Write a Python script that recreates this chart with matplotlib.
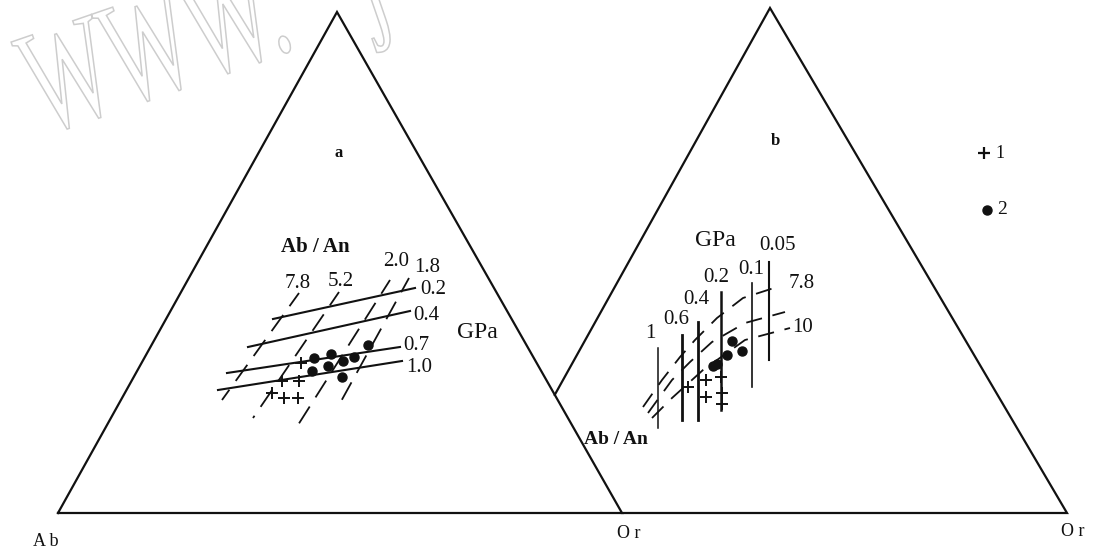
import numpy as np
import matplotlib
matplotlib.use("Agg")
import matplotlib.pyplot as plt
from matplotlib.textpath import TextPath
from matplotlib.patches import PathPatch
from matplotlib.font_manager import FontProperties
from matplotlib.transforms import Affine2D

plt.rcParams["font.family"] = ["Liberation Serif", "DejaVu Serif"]

# diagram units: x to the right, y downwards (0..1094 x 0..550)
tri_a = [(58, 513), (337, 12), (622, 513)]          # Ab, apex, Or
tri_b = [(489, 513), (770, 8), (1067, 513)]         # hidden left corner, apex, Or

# ---- diagram a ----
a_gpa_labels = ["0.2", "0.4", "0.7", "1.0"]
a_gpa_x0 = [273, 248, 227, 218]
a_gpa_y0 = [319, 347, 373, 390]
a_gpa_x1 = [415, 410, 400, 402]
a_gpa_y1 = [288, 311, 347, 361]
a_gpa_lx = [433, 426, 416, 419]
a_gpa_ly = [289, 315, 345, 367]

a_ratio_labels = ["7.8", "5.2", "2.0", "1.8"]
a_ratio_x0 = [299, 339, 390, 409]
a_ratio_y0 = [293, 292, 280, 278]
a_ratio_x1 = [222, 253, 298, 339]
a_ratio_y1 = [400, 418, 425, 405]
a_ratio_lx = [298, 341, 396, 427]
a_ratio_ly = [283, 281, 262, 267]

a_plus_x = [301, 282, 299, 272, 284, 298]
a_plus_y = [363, 381, 381, 393, 398, 398]
a_dot_x = [314, 331, 343, 354, 368, 312, 328, 342]
a_dot_y = [358, 354, 361, 357, 345, 371, 366, 377]

# ---- diagram b ----
b_gpa_labels = ["1", "0.6", "0.4", "0.2", "0.1", "0.05"]
b_gpa_x = [658, 682, 698, 721, 752, 769]
b_gpa_top = [348, 335, 322, 292, 283, 262]
b_gpa_bot = [428, 420, 420, 410, 387, 360]
b_gpa_lw = [1.1, 2.0, 2.0, 1.8, 1.2, 1.5]
b_gpa_lx = [650, 676, 696, 716, 751, 777]
b_gpa_ly = [334, 319, 299, 277, 269, 245]

b_ratio_labels = ["7.8", "", "10"]
b_ratio_x = [[643, 662, 680, 695, 717, 743, 777],
             [648, 672, 690, 712, 745, 785],
             [652, 672, 703, 717, 745, 790]]
b_ratio_y = [[407, 380, 357, 340, 318, 298, 287],
             [413, 380, 362, 342, 323, 312],
             [418, 398, 370, 360, 340, 328]]
b_ratio_lx = [802, None, 803]
b_ratio_ly = [283, None, 328]

b_plus_x = [688, 706, 721, 706, 722, 722]
b_plus_y = [387, 380, 377, 397, 393, 404]
b_dot_x = [732, 742, 727, 717, 713]
b_dot_y = [341, 351, 355, 364, 366]

fig = plt.figure(figsize=(10.94, 5.5), dpi=100)
ax = fig.add_axes([0, 0, 1, 1])
ax.set_xlim(0, 1094)
ax.set_ylim(550, 0)
ax.axis("off")

ink = "#111111"

# watermark (outlined, condensed, tilted)
wm_font = FontProperties(family="Liberation Serif")
for txt, along in [("WWW.", 0), ("j", 345)]:
    path = TextPath((0, 0), txt, size=150, prop=wm_font)
    path = (Affine2D().scale(0.6, -1.0).translate(along, 0)
            .rotate_deg(-19).translate(43, 135).transform_path(path))
    ax.add_patch(PathPatch(path, facecolor="none", edgecolor="#cdcdcd", lw=1.1, zorder=0))

# triangle a
xa = [p[0] for p in tri_a] + [tri_a[0][0]]
ya = [p[1] for p in tri_a] + [tri_a[0][1]]
ax.plot(xa, ya, color=ink, lw=1.6, solid_joinstyle="miter", zorder=2)

# triangle b, left side cut where it meets the right side of a
p, q = np.array(tri_a[1], float), np.array(tri_a[2], float)
r, s = np.array(tri_b[0], float), np.array(tri_b[1], float)
t = np.linalg.solve(np.column_stack([q - p, r - s]), r - p)[0]
cut = p + t * (q - p)
ax.plot([cut[0], tri_b[1][0], tri_b[2][0], tri_a[2][0]],
        [cut[1], tri_b[1][1], tri_b[2][1], tri_b[2][1]],
        color=ink, lw=1.6, solid_joinstyle="miter", zorder=2)

num_fs = 15

# a: pressure lines
for i, lab in enumerate(a_gpa_labels):
    ax.plot([a_gpa_x0[i], a_gpa_x1[i]], [a_gpa_y0[i], a_gpa_y1[i]], color=ink, lw=1.5)
    ax.text(a_gpa_lx[i], a_gpa_ly[i], lab, fontsize=num_fs, ha="center", va="center", color=ink)
# a: Ab/An lines
for i, lab in enumerate(a_ratio_labels):
    ax.plot([a_ratio_x0[i], a_ratio_x1[i]], [a_ratio_y0[i], a_ratio_y1[i]],
            color=ink, lw=1.3, linestyle=(2, (11, 6)))
    ax.text(a_ratio_lx[i], a_ratio_ly[i], lab, fontsize=num_fs, ha="center", va="center", color=ink)
ax.plot(a_plus_x, a_plus_y, "+", color=ink, ms=8, mew=1.4, zorder=3)
ax.plot(a_dot_x, a_dot_y, "o", color=ink, ms=6.5, zorder=3)
ax.text(315, 247, "Ab / An", fontsize=15, fontweight="bold", ha="center", va="center", color=ink)
ax.text(477, 333, "GPa", fontsize=17, ha="center", va="center", color=ink)
ax.text(339, 153, "a", fontsize=12, fontweight="bold", ha="center", va="center", color=ink)

# b: pressure lines
for i, lab in enumerate(b_gpa_labels):
    ax.plot([b_gpa_x[i], b_gpa_x[i]], [b_gpa_top[i], b_gpa_bot[i]], color=ink, lw=b_gpa_lw[i])
    ax.text(b_gpa_lx[i], b_gpa_ly[i], lab, fontsize=num_fs, ha="center", va="center", color=ink)
# b: Ab/An curves
for i, lab in enumerate(b_ratio_labels):
    ax.plot(b_ratio_x[i], b_ratio_y[i], color=ink, lw=1.3, linestyle=(0, (9, 6)))
    if lab:
        ax.text(b_ratio_lx[i], b_ratio_ly[i], lab, fontsize=num_fs, ha="center", va="center", color=ink)
ax.plot(b_plus_x, b_plus_y, "+", color=ink, ms=8, mew=1.4, zorder=3)
ax.plot(b_dot_x, b_dot_y, "o", color=ink, ms=6.5, zorder=3)
ax.text(715, 240, "GPa", fontsize=17, ha="center", va="center", color=ink)
ax.text(616, 440, "Ab / An", fontsize=14, fontweight="bold", ha="center", va="center", color=ink)
ax.text(775, 141, "b", fontsize=12, fontweight="bold", ha="center", va="center", color=ink)

# legend
ax.plot([984], [153], "+", color=ink, ms=8, mew=1.6)
ax.text(1000, 154, "1", fontsize=13, ha="center", va="center", color=ink)
ax.plot([987], [210], "o", color=ink, ms=6.5)
ax.text(1002, 210, "2", fontsize=14, ha="center", va="center", color=ink)

# corner labels
ax.text(46, 541, "A b", fontsize=13, ha="center", va="center", color=ink)
ax.text(629, 534, "O r", fontsize=13, ha="center", va="center", color=ink)
ax.text(1073, 532, "O r", fontsize=13, ha="center", va="center", color=ink)

fig.savefig("out.png", dpi=100)
